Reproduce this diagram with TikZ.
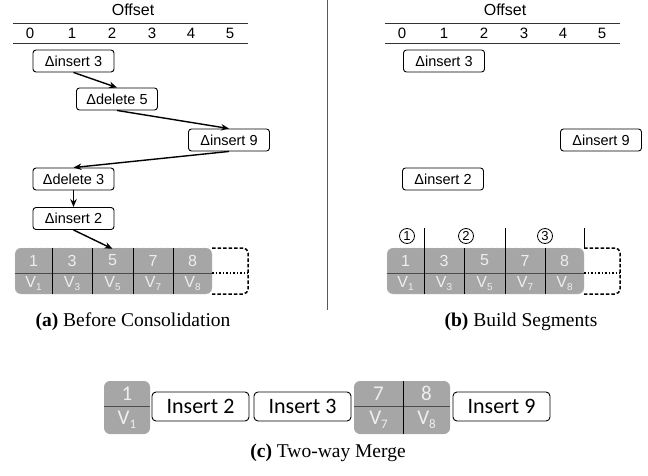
\documentclass[tikz,border=0pt]{standalone}
\usepackage{fontspec}
\setmainfont{Liberation Serif}
\newfontfamily\arialfont{Liberation Sans}
\newfontfamily\calibrifont{Carlito}
\usetikzlibrary{arrows.meta,positioning}

\definecolor{cellgray}{RGB}{166,166,166}
\definecolor{celltext}{RGB}{238,238,238}

\newcommand{\vsub}[1]{V\raisebox{-3pt}{\fontsize{10}{10}\selectfont #1}}

\tikzstyle{deltaNode} = [rectangle, rounded corners=3pt, draw=black, line width=0.9pt, minimum width=81pt, minimum height=22pt, inner sep=0pt, font=\arialfont\fontsize{14.5}{16}\selectfont]
\tikzstyle{insNode} = [rectangle, rounded corners=4pt, draw=black, line width=0.9pt, minimum width=97pt, minimum height=29pt, inner sep=0pt, font=\calibrifont\fontsize{22}{24}\selectfont]
\tikzstyle{cellNode} = [minimum width=40pt, minimum height=23pt, inner sep=0pt, text=celltext, font=\arialfont\fontsize{16}{18}\selectfont]
\tikzstyle{mergeNode} = [minimum width=46pt, minimum height=25pt, inner sep=0pt, text=celltext, font=\calibrifont\fontsize{21}{23}\selectfont]
\tikzstyle{axisNode} = [inner sep=0pt, font=\arialfont\fontsize{15}{17}\selectfont]
\tikzstyle{segNode} = [circle, draw=black, line width=0.8pt, minimum size=15pt, inner sep=0pt, font=\arialfont\fontsize{13}{15}\selectfont]
\tikzstyle{capNode} = [inner sep=0pt, font=\fontsize{19.5}{22}\selectfont]
\tikzstyle{arrow} = [line width=1.4pt,-{Stealth[length=8pt,width=6.5pt]}]
\tikzstyle{freeEdge} = [line width=1.5pt, dash pattern=on 3.5pt off 2pt]

\begin{document}
\begin{tikzpicture}[x=1pt,y=-1pt]
    \useasboundingbox (0,0) rectangle (648,476);

    % offset axis and array, both panels
    \foreach \p/\s in {a/0,b/372} {
      \begin{scope}[xshift=\s pt]
        \node (offset\p)[inner sep=0pt, font=\arialfont\fontsize{16}{18}\selectfont] at (133,10) {Offset};
        \draw[line width=0.9pt, black!80] (13,23) -- (248,23);
        \draw[line width=0.9pt, black!80] (13,43) -- (248,43);
        \foreach \n/\x in {0/30,1/72,2/112,3/152,4/191,5/230}
          \node (ax\p\n)[axisNode] at (\x,33) {\n};

        \draw[cellgray!60!white, dashed, fill=cellgray, rounded corners=6pt] (15,248) rectangle (212,294);
        \draw[freeEdge, rounded corners=5pt] (212,248) -- (248,248) -- (248,294) -- (212,294);
        \draw[dotted, line width=1.5pt] (212,273) -- (248,273);
        \draw[black!70, line width=1pt] (15,273) -- (212,273);
        \foreach \x in {52,92,133,173}
          \draw[line width=0.6pt] (\x,248) -- (\x,294);
        \foreach \n/\x [count=\i] in {1/33.5,3/72,5/112.5,7/153,8/192.5} {
          \node (k\p\i)[cellNode] at (\x,260.5) {\n};
          \node (v\p\i)[cellNode] at (\x,283.5) {\vsub{\n}};
        }
      \end{scope}
    }

    \draw[black!65, line width=1pt] (327,0) -- (327,310);

    % (a) before consolidation
    \node (ins3a)[deltaNode] at (73.5,61) {Δinsert 3};
    \node (del5a)[deltaNode] at (117,99) {Δdelete 5};
    \node (ins9a)[deltaNode] at (229,140) {Δinsert 9};
    \node (del3a)[deltaNode] at (73.5,179) {Δdelete 3};
    \node (ins2a)[deltaNode] at (73.5,218.5) {Δinsert 2};

    \draw [arrow] (ins3a.south) -- (del5a.north);
    \draw [arrow] (del5a.south) -- (ins9a.north);
    \draw [arrow] (ins9a.south) -- (del3a.north);
    \draw [arrow] (del3a.south) -- (ins2a.north);
    \draw [arrow] (ins2a.south) -- (ka3.north);

    \node (capa)[capNode] at (133,322) {\textbf{(a)} Before Consolidation};

    % (b) build segments
    \node (ins3b)[deltaNode] at (444,61) {Δinsert 3};
    \node (ins9b)[deltaNode] at (601,140) {Δinsert 9};
    \node (ins2b)[deltaNode] at (443,179) {Δinsert 2};

    \foreach \x in {424,505,584}
      \draw[line width=0.6pt] (\x,228) -- (\x,248);
    \node (seg1)[segNode] at (407,236) {1};
    \node (seg2)[segNode] at (466,236) {2};
    \node (seg3)[segNode] at (545,236) {3};

    \node (capb)[capNode] at (521,322) {\textbf{(b)} Build Segments};

    % (c) two-way merge
    \fill[cellgray, rounded corners=6pt] (104,381) rectangle (150,434);
    \draw[black!70, line width=1pt] (104,406) -- (150,406);
    \node (m1)[mergeNode] at (127,393.5) {1};
    \node (mv1)[mergeNode] at (127,420) {V\raisebox{-4pt}{\fontsize{13}{13}\selectfont 1}};

    \node (ins2c)[insNode] at (200.5,406.5) {Insert 2};
    \node (ins3c)[insNode] at (302.5,406.5) {Insert 3};

    \fill[cellgray, rounded corners=6pt] (354,381) rectangle (450,434);
    \draw[black!70, line width=1pt] (354,406) -- (450,406);
    \draw[line width=0.7pt] (403,381) -- (403,434);
    \node (m7)[mergeNode] at (378.5,393.5) {7};
    \node (m8)[mergeNode] at (426.5,393.5) {8};
    \node (mv7)[mergeNode] at (378.5,420) {V\raisebox{-4pt}{\fontsize{13}{13}\selectfont 7}};
    \node (mv8)[mergeNode] at (426.5,420) {V\raisebox{-4pt}{\fontsize{13}{13}\selectfont 8}};

    \node (ins9c)[insNode] at (501.5,406.5) {Insert 9};

    \node (capc)[capNode] at (328,453) {\textbf{(c)} Two-way Merge};

\end{tikzpicture}
\end{document}
